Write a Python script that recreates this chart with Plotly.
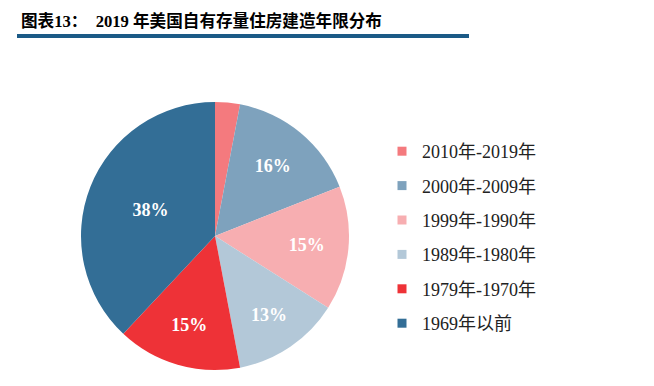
import plotly.graph_objects as go

categories = ["2010年-2019年", "2000年-2009年", "1999年-1990年", "1989年-1980年", "1979年-1970年", "1969年以前"]
values = [3, 16, 15, 13, 15, 38]
labels_text = ["", "16%", "15%", "13%", "15%", "38%"]
colors = ["#F47A7E", "#7EA2BD", "#F7AEB1", "#B3C8D8", "#EE3237", "#336E96"]

W, H = 654, 386
cx, cy, r = 215, 236, 134

fig = go.Figure()
fig.add_trace(go.Pie(
    labels=categories, values=values, text=labels_text,
    textinfo="text", textposition="inside", insidetextorientation="horizontal",
    sort=False, direction="clockwise", rotation=0,
    marker=dict(colors=colors, line=dict(width=0)),
    textfont=dict(family="Liberation Serif", size=18, color="white", weight="bold"),
    domain=dict(x=[(cx - r) / W, (cx + r) / W], y=[(H - cy - r) / H, (H - cy + r) / H]),
    showlegend=False, hoverinfo="label+percent",
))
for i, (c, col) in enumerate(zip(categories, colors)):
    fig.add_trace(go.Scatter(
        x=[None], y=[None], mode="markers", name=c, legendgroup=str(i),
        marker=dict(symbol="square", size=9, color=col), showlegend=True,
    ))

fig.update_layout(
    width=W, height=H, margin=dict(l=0, r=0, t=0, b=0),
    paper_bgcolor="white", plot_bgcolor="white",
    xaxis=dict(visible=False), yaxis=dict(visible=False),
    legend=dict(x=382 / W, y=1 - 133 / H, xanchor="left", yanchor="top",
                font=dict(family="Liberation Serif, Noto Sans CJK SC", size=18, color="#222"),
                tracegroupgap=8, itemwidth=30, bgcolor="rgba(0,0,0,0)"),
    annotations=[dict(
        x=19 / W, y=1 - 21 / H, xref="paper", yref="paper", xanchor="left", yanchor="middle",
        text="<b>图表13：  2019 年美国自有存量住房建造年限分布</b>", showarrow=False,
        font=dict(family="Liberation Serif, Noto Sans CJK SC", size=16.6, color="black"),
    )],
    shapes=[dict(type="rect", xref="paper", yref="paper",
                 x0=17 / W, x1=469 / W, y0=1 - 38 / H, y1=1 - 34 / H,
                 fillcolor="#1B5A86", line=dict(width=0))],
)
fig.write_html("out.html", config={"displayModeBar": False},
               post_script="document.body.style.margin='0';")
